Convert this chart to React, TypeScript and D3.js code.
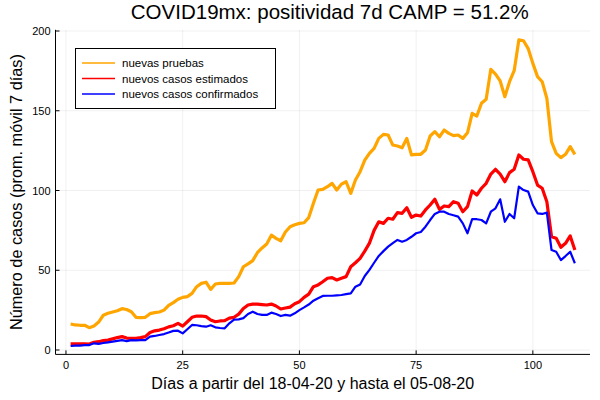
import * as d3 from 'd3'

const title = 'COVID19mx: positividad 7d CAMP = 51.2%'
const xLabel = 'Días a partir del 18-04-20 y hasta el 05-08-20'
const yLabel = 'Número de casos (prom. móvil 7 días)'

const xTicks = [0, 25, 50, 75, 100]
const yTicks = [0, 50, 100, 150, 200]

const seriesNames = ['nuevas pruebas', 'nuevos casos estimados', 'nuevos casos confirmados']
const seriesColors = ['#FFA500', '#FF0000', '#0000FF']

// dias 1..109
const pruebas = [
  16.3, 15.7, 15.5, 15.5, 14.0, 15.0, 17.5, 21.8, 23.0, 23.8,
  24.6, 25.9, 25.4, 24.0, 20.5, 20.3, 20.5, 22.8, 23.4, 23.8,
  25.0, 28.0, 29.7, 31.8, 33.0, 33.5, 35.5, 39.7, 41.8, 42.5,
  38.0, 41.4, 41.8, 41.8, 41.8, 42.0, 46.0, 52.2, 54.0, 56.0,
  61.0, 64.0, 66.5, 72.0, 70.0, 68.5, 74.0, 77.3, 78.5, 79.4,
  79.8, 83.0, 92.0, 100.3, 100.7, 102.4, 104.5, 100.3, 104.0, 105.5,
  98.2, 106.6, 111.8, 119.0, 123.3, 126.4, 132.7, 135.2, 134.8, 128.5,
  127.9, 126.8, 132.7, 122.3, 122.7, 122.7, 125.4, 134.2, 136.9, 133.7,
  137.9, 135.8, 134.4, 134.8, 132.7, 136.2, 148.4, 146.7, 154.7, 157.2,
  176.0, 173.0, 168.7, 158.8, 168.2, 175.1, 194.4, 193.9, 189.0, 179.7,
  171.4, 168.2, 157.8, 130.6, 123.3, 120.6, 122.7, 127.5, 122.7,
]

const estimados = [
  3.8, 3.8, 3.8, 3.8, 3.7, 4.8, 5.2, 5.9, 6.2, 7.0,
  7.8, 8.4, 7.5, 7.3, 7.3, 7.8, 8.4, 11.0, 12.0, 12.5,
  13.3, 14.5, 15.2, 16.7, 15.0, 17.7, 20.5, 21.3, 21.3, 20.9,
  18.8, 17.7, 18.2, 18.4, 20.0, 20.5, 22.5, 26.0, 28.2, 28.8,
  28.8, 28.5, 28.2, 28.8, 27.6, 25.7, 26.3, 26.9, 29.0, 30.3,
  33.0, 35.0, 39.7, 40.8, 42.8, 45.0, 45.4, 43.9, 45.0, 46.0,
  52.2, 54.7, 57.5, 62.0, 67.0, 75.0, 80.4, 79.4, 82.6, 82.0,
  86.1, 85.7, 89.2, 83.2, 84.6, 84.0, 87.8, 90.9, 94.5, 88.2,
  90.3, 89.9, 93.0, 92.0, 86.7, 89.9, 99.7, 97.2, 101.4, 104.5,
  110.3, 113.3, 110.3, 105.5, 111.2, 113.3, 122.3, 119.6, 119.2, 111.8,
  103.4, 101.4, 93.0, 71.0, 70.0, 64.4, 66.9, 71.5, 62.7,
]

const confirmados = [
  2.5, 2.7, 2.8, 3.0, 3.1, 4.2, 3.8, 4.4, 4.8, 5.2,
  5.7, 6.2, 5.6, 6.2, 6.0, 6.2, 6.2, 8.4, 8.8, 9.4,
  10.0, 11.0, 12.0, 12.1, 10.4, 13.0, 15.7, 15.5, 15.0, 14.6,
  15.5, 14.2, 13.8, 13.6, 16.7, 19.0, 19.2, 20.0, 22.6, 24.0,
  22.6, 22.0, 22.0, 23.4, 22.6, 21.3, 22.0, 21.5, 23.0, 25.0,
  26.7, 28.5, 30.9, 32.5, 33.9, 34.0, 34.0, 34.3, 34.5, 35.0,
  35.5, 39.7, 41.1, 46.4, 50.2, 54.7, 59.0, 62.0, 64.8, 67.0,
  69.0, 67.9, 69.0, 71.0, 73.2, 74.0, 77.3, 81.5, 85.3, 86.7,
  86.7, 85.3, 84.5, 83.6, 79.4, 73.2, 82.1, 82.0, 81.5, 79.4,
  86.7, 88.8, 94.5, 80.4, 85.3, 82.6, 102.4, 100.3, 99.3, 90.9,
  85.7, 85.3, 86.1, 62.7, 61.6, 56.4, 58.9, 61.6, 54.4,
]

const series = [pruebas, estimados, confirmados]
const widths = [3.2, 3.2, 2.2]

const W = 600
const H = 400
const font = "'Liberation Sans', Arial, sans-serif"

export default function App() {
  const x = d3.scaleLinear().domain([-2.24, 112.24]).range([55.5, 590])
  const y = d3.scaleLinear().domain([-2.76, 200.76]).range([354.4, 29.8])
  const [x0, x1] = x.range()
  const [y0, y1] = y.range()

  const line = d3
    .line<number>()
    .x((_, i) => x(i + 1))
    .y((d) => y(d))

  return (
    <svg width={W} height={H} style={{ position: 'absolute', left: 0, top: 0, background: '#fff' }} fontFamily={font}>
      <rect width={W} height={H} fill="#fff" />
      <g stroke="#000" strokeOpacity={0.1} strokeWidth={0.6}>
        {xTicks.map((t) => (
          <line key={'gx' + t} x1={x(t)} x2={x(t)} y1={y0} y2={y1} />
        ))}
        {yTicks.map((t) => (
          <line key={'gy' + t} x1={x0} x2={x1} y1={y(t)} y2={y(t)} />
        ))}
      </g>
      <g stroke="#000" strokeWidth={1}>
        <line x1={x0} x2={x0} y1={y0} y2={y1} />
        <line x1={x0} x2={x1} y1={y0} y2={y0} />
        {xTicks.map((t) => (
          <line key={'tx' + t} x1={x(t)} x2={x(t)} y1={y0} y2={y0 - 4} />
        ))}
        {yTicks.map((t) => (
          <line key={'ty' + t} x1={x0} x2={x0 + 4} y1={y(t)} y2={y(t)} />
        ))}
      </g>
      <g fontSize={11} fill="#000">
        {xTicks.map((t) => (
          <text key={'lx' + t} x={x(t)} y={y0 + 15} textAnchor="middle">
            {t}
          </text>
        ))}
        {yTicks.map((t) => (
          <text key={'ly' + t} x={x0 - 5} y={y(t) + 4} textAnchor="end">
            {t}
          </text>
        ))}
      </g>
      {series.map((s, i) => (
        <path
          key={seriesNames[i]}
          d={line(s) ?? ''}
          fill="none"
          stroke={seriesColors[i]}
          strokeWidth={widths[i]}
          strokeLinejoin="round"
        />
      ))}
      <g>
        <rect x={75.5} y={48.5} width={200} height={60} fill="#fff" stroke="#000" strokeWidth={1} />
        {seriesNames.map((n, i) => (
          <g key={'leg' + n}>
            <line x1={82} x2={115} y1={63 + i * 15.5} y2={63 + i * 15.5} stroke={seriesColors[i]} strokeWidth={1.5} />
            <text x={122} y={67 + i * 15.5} fontSize={11.5}>
              {n}
            </text>
          </g>
        ))}
      </g>
      <text x={(x0 + x1) / 2 + 7} y={19} fontSize={20.5} textAnchor="middle">
        {title}
      </text>
      <text x={(x0 + x1) / 2 - 10} y={389} fontSize={16} textAnchor="middle">
        {xLabel}
      </text>
      <text
        transform={`translate(22,${(y0 + y1) / 2}) rotate(-90)`}
        fontSize={16.3}
        textAnchor="middle"
      >
        {yLabel}
      </text>
    </svg>
  )
}
